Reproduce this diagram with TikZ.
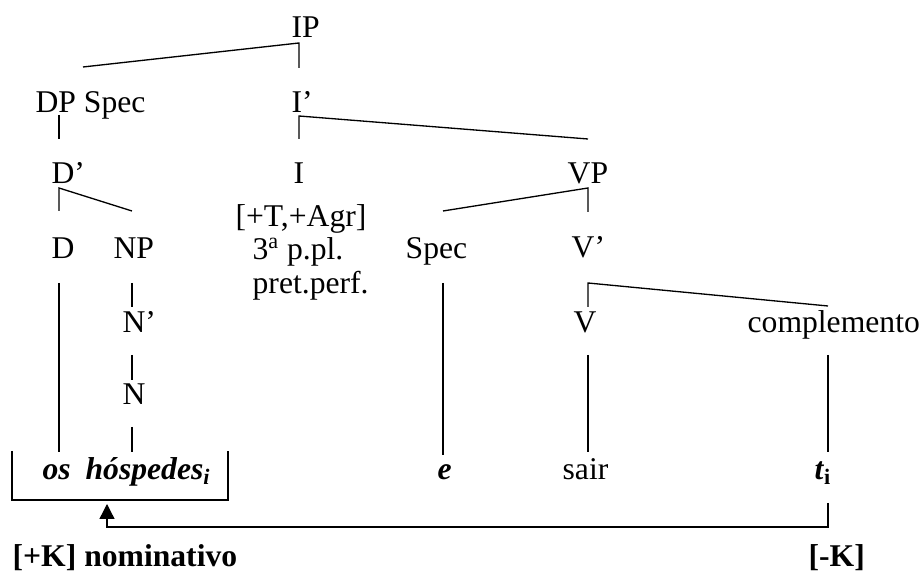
\documentclass[tikz,border=0pt]{standalone}
\usepackage{fontspec}
\setmainfont{Liberation Serif}
\usetikzlibrary{arrows.meta}

\begin{document}
\begin{tikzpicture}[line width=0.75pt,
  lab/.style={inner sep=0pt, anchor=base west, font=\fontsize{18}{22}\selectfont},
  cat/.style={lab},
  leaf/.style={lab, font=\fontsize{18}{22}\selectfont\bfseries\itshape},
  note/.style={lab, font=\fontsize{18}{22}\selectfont\bfseries},
]
\useasboundingbox (0,0) rectangle (18.44,-11.56);
% category labels
\node[cat] (ip)     at (5.82,-0.76)  {IP};
\node[cat] (dpspec) at (0.70,-2.26)  {DP Spec};
\node[cat] (ibar)   at (5.82,-2.26)  {I’};
\node[cat] (dbar)   at (1.02,-3.68)  {D’};
\node[cat] (infl)   at (5.86,-3.68)  {I};
\node[cat] (vp)     at (11.34,-3.68) {VP};
\node[lab,anchor=base] (feat) at (6.02,-4.54) {[+T,+Agr]};
\node[cat] (det)    at (1.02,-5.18)  {D};
\node[cat] (np)     at (2.26,-5.18)  {NP};
\node[lab] (pers)   at (5.04,-5.20)  {3\textsuperscript{a} p.pl.};
\node[lab] (tense)  at (5.04,-5.88)  {pret.perf.};
\node[cat] (spec)   at (8.10,-5.18)  {Spec};
\node[cat] (vbar)   at (11.42,-5.16) {V’};
\node[cat] (nbar)   at (2.44,-6.66)  {N’};
\node[cat] (verb)   at (11.46,-6.66) {V};
\node[cat] (compl)  at (14.94,-6.66) {complemento};
\node[cat] (noun)   at (2.44,-8.10)  {N};
% terminals
\node[leaf] (os)    at (0.84,-9.60)  {os};
\node[leaf] (hosp)  at (1.70,-9.60)  {hóspedes\textsubscript{i}};
\node[leaf] (empty) at (8.74,-9.60)  {e};
\node[lab]  (sair)  at (11.24,-9.60) {sair};
\node[note] (trace) at (16.28,-9.60) {\textit{t}\textsubscript{i}};
\node[note] (nom)   at (0.24,-11.34) {[+K] nominativo};
\node[note] (minusk) at (16.16,-11.34) {[-K]};
% branch points
\coordinate (ipc)    at (5.98,-0.86);
\coordinate (ipl)    at (1.66,-1.34);
\coordinate (ipr)    at (5.98,-1.36);
\coordinate (dpa)    at (1.18,-2.30);
\coordinate (dpb)    at (1.18,-2.78);
\coordinate (ibc)    at (5.98,-2.32);
\coordinate (ibl)    at (5.98,-2.78);
\coordinate (ibr)    at (11.76,-2.78);
\coordinate (dbc)    at (1.18,-3.76);
\coordinate (dbl)    at (1.18,-4.22);
\coordinate (dbr)    at (2.64,-4.22);
\coordinate (vpc)    at (11.76,-3.76);
\coordinate (vpl)    at (8.86,-4.22);
\coordinate (vpr)    at (11.76,-4.24);
\coordinate (deta)   at (1.18,-5.66);
\coordinate (detb)   at (1.18,-9.04);
\coordinate (npa)    at (2.64,-5.66);
\coordinate (npb)    at (2.64,-6.14);
\coordinate (speca)  at (8.86,-5.66);
\coordinate (specb)  at (8.86,-9.10);
\coordinate (vbc)    at (11.76,-5.66);
\coordinate (vbl)    at (11.76,-6.14);
\coordinate (vbr)    at (16.56,-6.12);
\coordinate (nba)    at (2.64,-7.10);
\coordinate (nbb)    at (2.64,-7.60);
\coordinate (na)     at (2.64,-8.54);
\coordinate (nb)     at (2.64,-9.04);
\coordinate (va)     at (11.76,-7.10);
\coordinate (vb)     at (11.76,-9.04);
\coordinate (cpa)    at (16.56,-7.10);
\coordinate (cpb)    at (16.56,-9.04);
% tree
\draw (ipl) -- (ipc) -- (ipr);
\draw (dpa) -- (dpb);
\draw (ibr) -- (ibc) -- (ibl);
\draw (dbr) -- (dbc) -- (dbl);
\draw (vpl) -- (vpc) -- (vpr);
\draw (deta) -- (detb);
\draw (npa) -- (npb);
\draw (speca) -- (specb);
\draw (vbr) -- (vbc) -- (vbl);
\draw (nba) -- (nbb);
\draw (na) -- (nb);
\draw (va) -- (vb);
\draw (cpa) -- (cpb);
% bracket and movement arrow
\coordinate (brl) at (0.24,-9.02);
\coordinate (brr) at (4.56,-9.02);
\draw (brl) -- (0.24,-10.0) -- (4.56,-10.0) -- (brr);
\coordinate (tfoot) at (16.56,-10.06);
\coordinate (head)  at (2.14,-10.08);
\draw[-{Triangle[width=0.3cm,length=0.3cm]}] (tfoot) |- (2.14,-10.54) -- (head);
\end{tikzpicture}
\end{document}
